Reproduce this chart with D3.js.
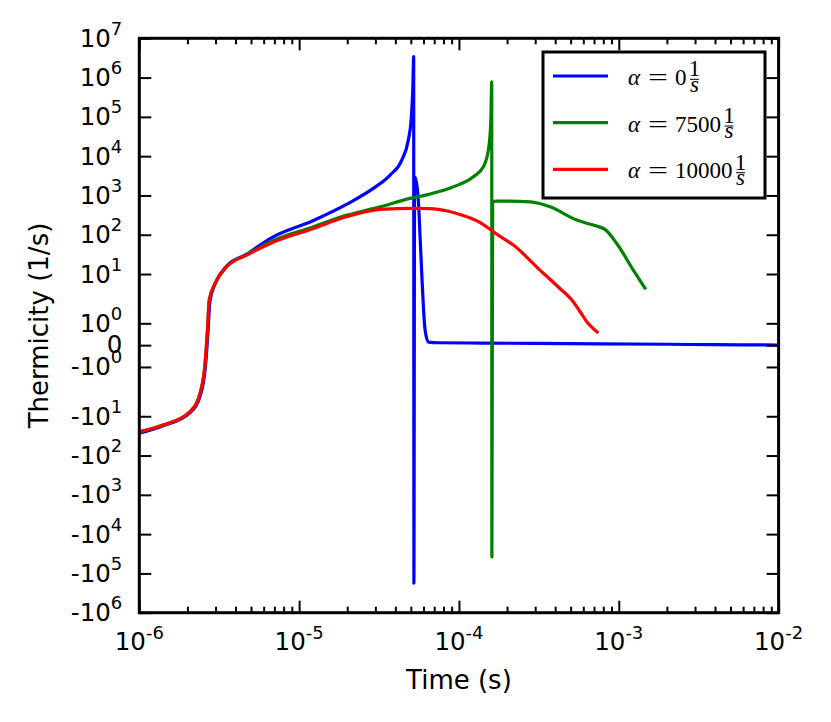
<!DOCTYPE html>
<html>
<head>
<meta charset="utf-8">
<script src="https://cdn.jsdelivr.net/npm/d3@7"></script>
<style>
  body { margin: 0; background: #fff; }
  svg { display: block; }
  .tick line { stroke: #000; stroke-width: 2; }
  .ticklabel { font-family: "DejaVu Sans", sans-serif; font-size: 24.5px; fill: #000; }
  .axislabel { font-family: "DejaVu Sans", sans-serif; font-size: 26px; fill: #000; }
  .legtext { font-family: "Liberation Serif", serif; font-size: 23px; fill: #000; }
</style>
</head>
<body>
<div id="chart"></div>
<script>
// chart data (time in s, thermicity in 1/s)
var seriesNames = ["0", "7500", "10000"];
var seriesColors = ["#0000ff", "#008000", "#ff0000"];

var blueData = [
  [1.0e-6, -27], [1.41e-6, -17.5], [2.07e-6, -8.2], [2.42e-6, -2.8], [2.6e-6, -0.9],
  [2.69e-6, 0.6], [2.77e-6, 2.1], [3.0e-6, 5.9], [3.52e-6, 16], [4.7e-6, 32],
  [6.58e-6, 80], [1.23e-5, 230], [1.99e-5, 600], [2.91e-5, 1510], [3.71e-5, 3300],
  [4.39e-5, 7950], [4.82e-5, 25600], [5.02e-5, 82800], [5.14e-5, 479000], [5.21e-5, 3.4e6],
  [5.225e-5, -1.78e5], [5.28e-5, 2990], [5.57e-5, 760], [5.71e-5, 92], [5.85e-5, 10.5],
  [6.14e-5, 0.69], [6.44e-5, 0.14], [7.5e-5, 0.11], [1.4e-4, 0.095], [3e-4, 0.08],
  [7.6e-4, 0.062], [2e-3, 0.04], [4e-3, 0.02], [1e-2, 0.005]
];

var greenData = [
  [1.0e-6, -25], [1.41e-6, -16.8], [2.07e-6, -7.7], [2.4e-6, -2.63], [2.58e-6, -0.84],
  [2.67e-6, 0.69], [2.74e-6, 2.17], [2.98e-6, 5.76], [3.52e-6, 15.5], [4.7e-6, 31],
  [6.58e-6, 66], [1.23e-5, 160], [2.0e-5, 316], [3.21e-5, 513], [4.94e-5, 841],
  [6.59e-5, 1084], [9.23e-5, 1660], [1.231e-4, 2986], [1.421e-4, 5360], [1.528e-4, 14260],
  [1.581e-4, 68200], [1.604e-4, 782000], [1.607e-4, -38000], [1.625e-4, 700], [1.71e-4, 718],
  [2.79e-4, 689], [3.72e-4, 514], [5.46e-4, 236], [6.93e-4, 176], [8.2e-4, 137],
  [9.71e-4, 60], [1.233e-3, 12.6], [1.475e-3, 4.06]
];

var redData = [
  [1.0e-6, -25], [1.41e-6, -16.8], [2.07e-6, -7.7], [2.4e-6, -2.63], [2.58e-6, -0.84],
  [2.67e-6, 0.69], [2.74e-6, 2.17], [2.98e-6, 5.76], [3.52e-6, 15.3], [4.7e-6, 30.3],
  [6.6e-6, 60], [1.23e-5, 145], [1.99e-5, 290], [3.21e-5, 441], [5.19e-5, 470],
  [6.59e-5, 460], [9.68e-5, 349], [1.36e-4, 204], [1.72e-4, 104], [2.19e-4, 54.5],
  [3.21e-4, 12.6], [4.2e-4, 4.6], [5.2e-4, 1.98], [5.73e-4, 1.53], [6.31e-4, 1.07],
  [7.45e-4, 0.56]
];

var timeTicks = [1e-6, 1e-5, 1e-4, 1e-3, 1e-2];
var timeExp = ["-6", "-5", "-4", "-3", "-2"];
var thermTicks = [1e7, 1e6, 1e5, 1e4, 1e3, 1e2, 1e1, 1e0, 0, -1e0, -1e1, -1e2, -1e3, -1e4, -1e5, -1e6];

var svgWidth = 831;
var svgHeight = 722;
var margin = { top: 38.3, right: 52.4, bottom: 109.3, left: 139.3 };
var width = svgWidth - margin.left - margin.right;
var height = svgHeight - margin.top - margin.bottom;

// matplotlib style symlog (linthresh 2, linscale 1)
var linthresh = 2;
var linAdj = 1 / (1 - 1 / 10);
function symlog(v) {
  var a = Math.abs(v);
  if (a <= linthresh) return v * linAdj;
  return Math.sign(v) * linthresh * (linAdj + Math.log10(a / linthresh));
}

var svg = d3.select("#chart").append("svg")
  .attr("width", svgWidth)
  .attr("height", svgHeight);

var chartGroup = svg.append("g")
  .attr("transform", `translate(${margin.left}, ${margin.top})`);

var xScale = d3.scaleLog().domain([1e-6, 1e-2]).range([0, width]);
var yLin = d3.scaleLinear().domain([symlog(-1e6), symlog(1e7)]).range([height, 0]);
var yScale = v => yLin(symlog(v));

// minor ticks for the log axis
var minorTicks = [];
for (var e = -6; e < -2; e++) {
  for (var m = 2; m < 10; m++) minorTicks.push(m * Math.pow(10, e));
}

// clip
chartGroup.append("clipPath").attr("id", "clip")
  .append("rect").attr("width", width).attr("height", height);

// lines
var line = d3.line()
  .x(d => xScale(d[0]))
  .y(d => yScale(d[1]))
  .curve(d3.curveMonotoneX);

var allData = [blueData, greenData, redData];
chartGroup.append("g").attr("clip-path", "url(#clip)")
  .selectAll("path")
  .data(allData)
  .enter()
  .append("path")
  .attr("d", d => line(d))
  .attr("fill", "none")
  .attr("stroke", (d, i) => seriesColors[i])
  .attr("stroke-width", 3.2)
  .attr("stroke-linejoin", "round");

// axes (ticks inside, all four sides)
var yTickT = thermTicks.map(symlog);
function noDomain(g) { g.select(".domain").remove(); }

chartGroup.append("g")
  .call(d3.axisLeft(yLin).tickValues(yTickT).tickSize(-12).tickFormat(""))
  .call(noDomain);
chartGroup.append("g")
  .attr("transform", `translate(${width}, 0)`)
  .call(d3.axisRight(yLin).tickValues(yTickT).tickSize(-12).tickFormat(""))
  .call(noDomain);

chartGroup.append("g")
  .attr("transform", `translate(0, ${height})`)
  .call(d3.axisBottom(xScale).tickValues(timeTicks).tickSize(-12).tickFormat(""))
  .call(noDomain);
chartGroup.append("g")
  .attr("transform", `translate(0, ${height})`)
  .call(d3.axisBottom(xScale).tickValues(minorTicks).tickSize(-6).tickFormat(""))
  .call(noDomain);
chartGroup.append("g")
  .call(d3.axisTop(xScale).tickValues(timeTicks).tickSize(-12).tickFormat(""))
  .call(noDomain);
chartGroup.append("g")
  .call(d3.axisTop(xScale).tickValues(minorTicks).tickSize(-6).tickFormat(""))
  .call(noDomain);

// spines
chartGroup.append("rect")
  .attr("width", width)
  .attr("height", height)
  .attr("fill", "none")
  .attr("stroke", "#000")
  .attr("stroke-width", 3);

// y tick labels
var yLabels = chartGroup.append("g");
thermTicks.forEach(function(v) {
  var t = yLabels.append("text")
    .attr("class", "ticklabel")
    .attr("text-anchor", "end")
    .attr("x", -17)
    .attr("y", yScale(v) + (v === 0 ? 7.5 : 8.5));
  if (v === 0) {
    t.text("0");
  } else {
    var ex = Math.round(Math.log10(Math.abs(v)));
    t.append("tspan").text((v < 0 ? "-" : "") + "10");
    t.append("tspan").attr("dy", -12).attr("font-size", "18px").text(ex);
  }
});

// x tick labels
var xLabels = chartGroup.append("g");
timeTicks.forEach(function(v, i) {
  var t = xLabels.append("text")
    .attr("class", "ticklabel")
    .attr("text-anchor", "middle")
    .attr("x", xScale(v))
    .attr("y", height + 37.5);
  t.append("tspan").text("10");
  t.append("tspan").attr("dy", -11).attr("font-size", "18px").text(timeExp[i]);
});

// axis labels
chartGroup.append("text")
  .attr("class", "axislabel")
  .attr("text-anchor", "middle")
  .attr("x", width / 2)
  .attr("y", height + 76.5)
  .text("Time (s)");

chartGroup.append("text")
  .attr("class", "axislabel")
  .attr("text-anchor", "middle")
  .attr("transform", "rotate(-90)")
  .attr("x", -height / 2)
  .attr("y", 48 - margin.left)
  .text("Thermicity (1/s)");

// legend
var legend = svg.append("g").attr("transform", "translate(543, 52)");
legend.append("rect")
  .attr("width", 222)
  .attr("height", 146)
  .attr("fill", "#fff")
  .attr("stroke", "#000")
  .attr("stroke-width", 3);

seriesNames.forEach(function(name, i) {
  var ly = 24 + i * 46.7;
  legend.append("line")
    .attr("x1", 10).attr("x2", 65)
    .attr("y1", ly).attr("y2", ly)
    .attr("stroke", seriesColors[i])
    .attr("stroke-width", 3.2);
  legend.append("text")
    .attr("class", "legtext")
    .attr("font-style", "italic")
    .attr("x", 85).attr("y", ly + 9)
    .text("\u03b1");
  legend.append("text")
    .attr("class", "legtext")
    .attr("x", 105).attr("y", ly + 9)
    .attr("textLength", 20)
    .attr("lengthAdjust", "spacingAndGlyphs")
    .text("=");
  var num = legend.append("text")
    .attr("class", "legtext")
    .attr("x", 132).attr("y", ly + 9)
    .text(name);
  var fx = 132 + num.node().getComputedTextLength() + 8;
  // stacked 1/s fraction
  legend.append("text")
    .attr("class", "legtext")
    .attr("font-size", "13px")
    .attr("text-anchor", "middle")
    .attr("x", fx).attr("y", ly + 0.3)
    .text("1");
  legend.append("text")
    .attr("class", "legtext")
    .attr("font-size", "13px")
    .attr("font-style", "italic")
    .attr("text-anchor", "middle")
    .attr("x", fx).attr("y", ly + 15.5)
    .text("s");
  legend.append("line")
    .attr("x1", fx - 4.5).attr("x2", fx + 4.5)
    .attr("y1", ly + 3.3).attr("y2", ly + 3.3)
    .attr("stroke", "#000")
    .attr("stroke-width", 1);
});
</script>
</body>
</html>
